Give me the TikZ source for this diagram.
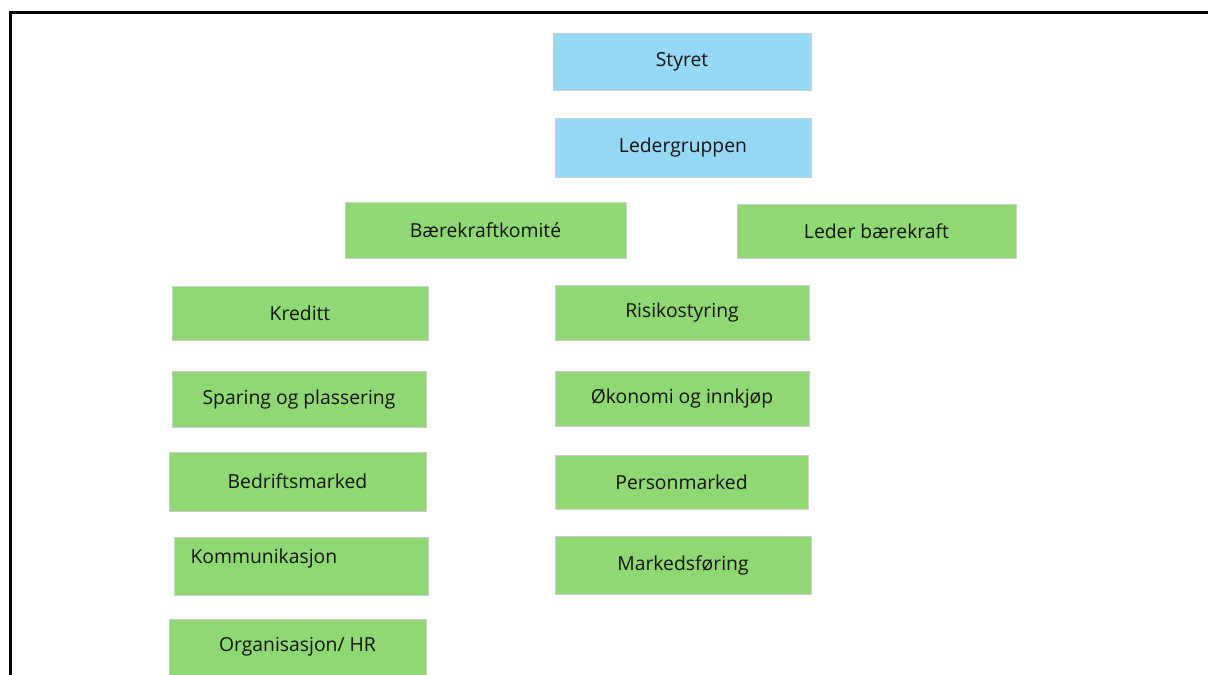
\documentclass[tikz,border=0pt]{standalone}
\usepackage{fontspec}
\setmainfont{Open Sans}
\usetikzlibrary{positioning}
\definecolor{boardblue}{RGB}{151,217,245}
\definecolor{unitgreen}{RGB}{143,216,115}
\definecolor{boxedge}{RGB}{205,205,205}
\definecolor{labeltext}{RGB}{20,20,20}
\tikzset{
  orgbox/.style={draw=boxedge, line width=0.75pt, inner sep=0pt, text=labeltext,
    font=\fontsize{14.5}{17}\selectfont},
  bluebox/.style={orgbox, fill=boardblue},
  greenbox/.style={orgbox, fill=unitgreen},
}
\begin{document}
\begin{tikzpicture}[x=0.75pt,y=0.75pt,yscale=-1,xscale=1]
\useasboundingbox (0,0) rectangle (1208,675);

%Frame
\draw [line width=2.25] (10,675) -- (10,12) -- (1208,12) ;

%Node: Styret
\node [bluebox, minimum width=193.5pt, minimum height=42.75pt] (styret) at (682,61.5) {Styret};
%Node: Ledergruppen
\node [bluebox, minimum width=192pt, minimum height=44.25pt] (ledergr) at (683,147.5) {Ledergruppen};

%Node: Baerekraftkomite
\node [greenbox, minimum width=210.75pt, minimum height=42pt] (komite) at (485.5,230) {Bærekraftkomité};
%Node: Leder baerekraft
\node [greenbox, minimum width=209.25pt, minimum height=40.5pt] (lederbk) at (876.5,231) {Leder bærekraft};

%Left column
\node [greenbox, minimum width=192pt, minimum height=40.5pt] (kreditt) at (300,313) {Kreditt};
\node [greenbox, minimum width=190.5pt, minimum height=42pt] (sparing) at (299,399) {Sparing og plassering};
\node [greenbox, minimum width=192.75pt, minimum height=44.25pt] (bedrift) at (297.5,481.5) {Bedriftsmarked};
\node [greenbox, anchor=north west, align=left, inner xsep=12pt, text width=166.5pt,
  text height=19.5pt, text depth=24pt] (kommunik) at (174,537) {Kommunikasjon};
\node [greenbox, minimum width=192.75pt, minimum height=42pt] (org) at (297.5,647) {Organisasjon/ HR};

%Right column
\node [greenbox, minimum width=190.5pt, minimum height=41.25pt] (risiko) at (682,312.5) {Risikostyring};
\node [greenbox, minimum width=190.5pt, minimum height=41.25pt] (okonomi) at (682,398.5) {Økonomi og innkjøp};
\node [greenbox, minimum width=189.75pt, minimum height=40.5pt] (person) at (681.5,482) {Personmarked};
\node [greenbox, minimum width=192pt, minimum height=43.5pt] (marked) at (683,565) {Markedsføring};

\end{tikzpicture}
\end{document}
